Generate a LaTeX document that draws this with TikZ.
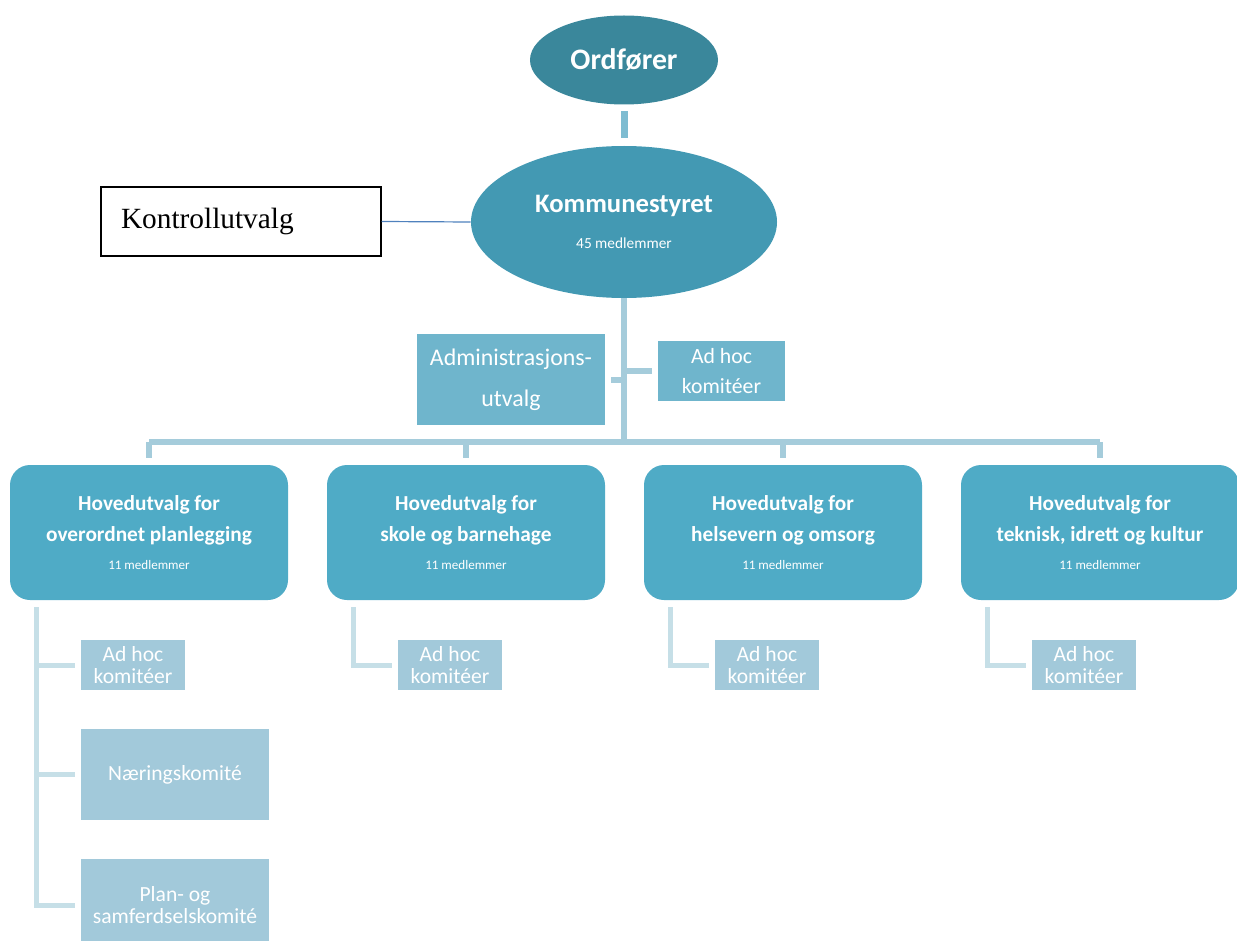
\documentclass[tikz,border=0pt]{standalone}
\usepackage{fontspec}
\setmainfont{Carlito}
\newfontfamily\serifkont{Liberation Serif}
\usetikzlibrary{positioning,shapes.geometric}
\tikzset{>=latex}
\definecolor{ordcol}{HTML}{3A879B}
\definecolor{kstcol}{HTML}{4399B3}
\definecolor{admcol}{HTML}{6FB5CC}
\definecolor{hovcol}{HTML}{4FABC6}
\definecolor{subcol}{HTML}{A2C9DA}
\definecolor{barcol}{HTML}{7EBCD1}
\definecolor{trunkcol}{HTML}{A5CCDB}
\definecolor{sublcol}{HTML}{C6DFE7}
\definecolor{kontlcol}{HTML}{4F81BD}
\newcommand{\medl}[1]{\fontsize{9.8}{11}\mdseries\selectfont #1 medlemmer}

\begin{document}
\begin{tikzpicture}[x=0.75pt,y=-0.75pt,
    ellbox/.style={ellipse,inner sep=0pt,text=white,align=center},
    hovbox/.style={rectangle,rounded corners=15pt,fill=hovcol,text=white,align=center,
      minimum width=208.5pt,minimum height=101.25pt,inner sep=0pt,
      font=\fontsize{16}{23.5}\bfseries\selectfont},
    subbox/.style={rectangle,fill=subcol,text=white,align=center,inner sep=0pt,
      font=\fontsize{16.2}{16.5}\selectfont},
    trunk/.style={draw=trunkcol,line width=4.5pt},
    subline/.style={draw=sublcol,line width=3.75pt}]
  \useasboundingbox (0,0) rectangle (1237,941);
  \def\bary{442}  % y of the horizontal bar
  %
  \node[ellbox,fill=ordcol,minimum width=141pt,minimum height=66.75pt,
    font=\fontsize{22.3}{24}\bfseries] (ord) at (624,60) {Ordfører};
  \node[ellbox,fill=kstcol,minimum width=229.5pt,minimum height=114pt,
    font=\fontsize{20}{22}\bfseries\selectfont] (kst) at (624,222)
    {Kommunestyret\\[5pt]\fontsize{11.5}{12}\mdseries\selectfont 45 medlemmer};
  \node[draw=black,line width=0.9pt,fill=white,text width=180pt,inner xsep=15pt,
    minimum height=51.75pt,align=left,font=\serifkont\fontsize{22}{24}\selectfont] (kont) at (241,221.5)
    {Kontrollutvalg};
  \node[rectangle,fill=admcol,text=white,align=center,minimum width=141pt,minimum height=68.25pt,
    inner sep=0pt,font=\fontsize{17.9}{30.5}\selectfont] (adm) at (511,379.5)
    {Administrasjons-\\utvalg};
  \node[rectangle,fill=admcol,text=white,align=center,minimum width=95.25pt,minimum height=45pt,
    inner sep=0pt,font=\fontsize{16.3}{22.5}\selectfont] (adhoc) at (721.5,371)
    {Ad hoc\\komitéer};
  %
  \draw[draw=barcol,line width=5.25pt,shorten <=4.5pt,shorten >=6pt] (ord) -- (kst);
  \draw[kontlcol,line width=0.9pt] (kont.east) -- (kst.west);
  \coordinate (bar) at (624,\bary);
  \draw[trunk] (kst.south) -- (bar);
  \draw[trunk,shorten >=4.5pt] (kst.south |- adm.east) -- (adm.east);
  \draw[trunk,shorten >=4.5pt] (kst.south |- adhoc.west) -- (adhoc.west);
  %
  \node[hovbox] (hov1) at (149,532.5) {Hovedutvalg for\\overordnet planlegging\\[-3pt]\medl{11}};
  \node[hovbox] (hov2) at (466,532.5) {Hovedutvalg for\\skole og barnehage\\[-3pt]\medl{11}};
  \node[hovbox] (hov3) at (783,532.5) {Hovedutvalg for\\helsevern og omsorg\\[-3pt]\medl{11}};
  \node[hovbox] (hov4) at (1100,532.5) {Hovedutvalg for\\teknisk, idrett og kultur\\[-3pt]\medl{11}};
  \draw[trunk] (hov1.north |- bar) -- (hov4.north |- bar);
  \foreach \i in {1,...,4} {%
    \draw[trunk,shorten >=5pt] (hov\i.north |- bar) -- (hov\i.north);
    \node[subbox,minimum width=78pt,minimum height=37.5pt,xshift=-12pt] (ah\i) at (hov\i |- 0,665) {Ad hoc\\komitéer};
    \coordinate[xshift=-84.75pt] (sl\i) at (hov\i |- 0,607);
    \draw[subline,shorten >=4.5pt] (sl\i) |- (ah\i.west);
  }
  %
  \node[subbox,minimum width=141pt,minimum height=68.25pt] (naer) at (175,774.5) {Næringskomité};
  \node[subbox,minimum width=141pt,minimum height=69pt] (plan) at (175,905) {Plan- og\\samferdselskomité};
  \draw[subline,shorten >=4.5pt] (sl1) |- (plan.west);
  \draw[subline,shorten >=4.5pt] (sl1 |- naer.west) -- (naer.west);
\end{tikzpicture}
\end{document}
